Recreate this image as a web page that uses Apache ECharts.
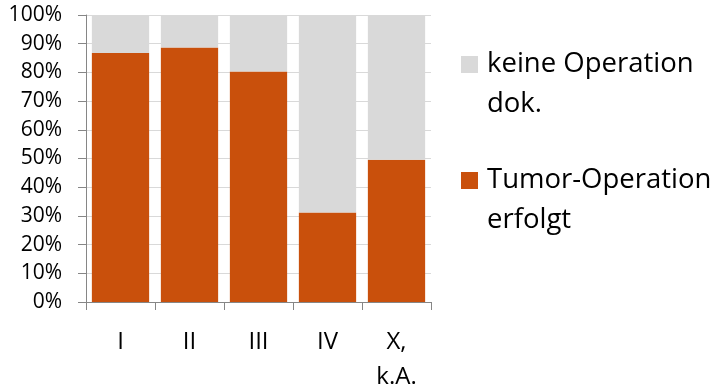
<!DOCTYPE html>
<html>
<head>
<meta charset="utf-8">
<script src="https://cdn.jsdelivr.net/npm/echarts@6/dist/echarts.min.js"></script>
<style>
  html, body { margin: 0; padding: 0; background: #fff; }
  #chart { width: 717px; height: 389px; }
</style>
</head>
<body>
<div id="chart"></div>
<script>
// Tumour stage categories and shares (in %)
const stages = ['I', 'II', 'III', 'IV', 'X,\nk.A.'];
const operated = [86.8, 88.7, 80.3, 31.2, 49.6];
const notOperated = operated.map(v => +(100 - v).toFixed(1));
const yTicks = [0, 10, 20, 30, 40, 50, 60, 70, 80, 90, 100];

const seriesNames = ['Tumor-Operation\nerfolgt', 'keine Operation\ndok.'];
const FONT = '"Open Sans", "Noto Sans", sans-serif';

const chart = echarts.init(document.getElementById('chart'));
chart.setOption({
  animation: false,
  grid: { left: 86, right: 286, top: 15, bottom: 87, containLabel: false, outerBoundsMode: 'none' },
  legend: {
    orient: 'vertical',
    left: 461,
    top: 4.5,
    padding: 0,
    itemWidth: 25,
    itemHeight: 17,
    itemGap: -4,
    icon: 'path://M0,0H1V1H0Z',
    data: [seriesNames[1], seriesNames[0]],
    // leading blank line keeps the square level with the first text line
    formatter: name => '\n' + name,
    textStyle: {
      fontFamily: FONT, fontSize: 27.5, color: '#000', lineHeight: 40
    }
  },
  xAxis: {
    type: 'category',
    data: stages,
    axisLine: { lineStyle: { color: '#868686', width: 1 } },
    axisTick: { show: true, length: 8, lineStyle: { color: '#868686' } },
    axisLabel: {
      fontFamily: FONT, fontSize: 24, color: '#000',
      lineHeight: 35, margin: 23
    }
  },
  yAxis: {
    type: 'value',
    min: 0, max: 100, interval: 10,
    axisLine: { show: true, lineStyle: { color: '#868686' } },
    axisTick: { show: true, length: 8, lineStyle: { color: '#868686' } },
    splitLine: { lineStyle: { color: '#d9d9d9', width: 1 } },
    axisLabel: {
      fontFamily: FONT, fontSize: 21, color: '#000', margin: 24,
      formatter: v => yTicks.includes(v) ? v + '%' : ''
    }
  },
  series: [
    {
      name: seriesNames[0], type: 'bar', stack: 'total',
      barCategoryGap: '17%',
      itemStyle: { color: '#C9500C' },
      data: operated
    },
    {
      name: seriesNames[1], type: 'bar', stack: 'total',
      barCategoryGap: '17%',
      itemStyle: { color: '#D9D9D9' },
      data: notOperated
    }
  ]
});
</script>
</body>
</html>
